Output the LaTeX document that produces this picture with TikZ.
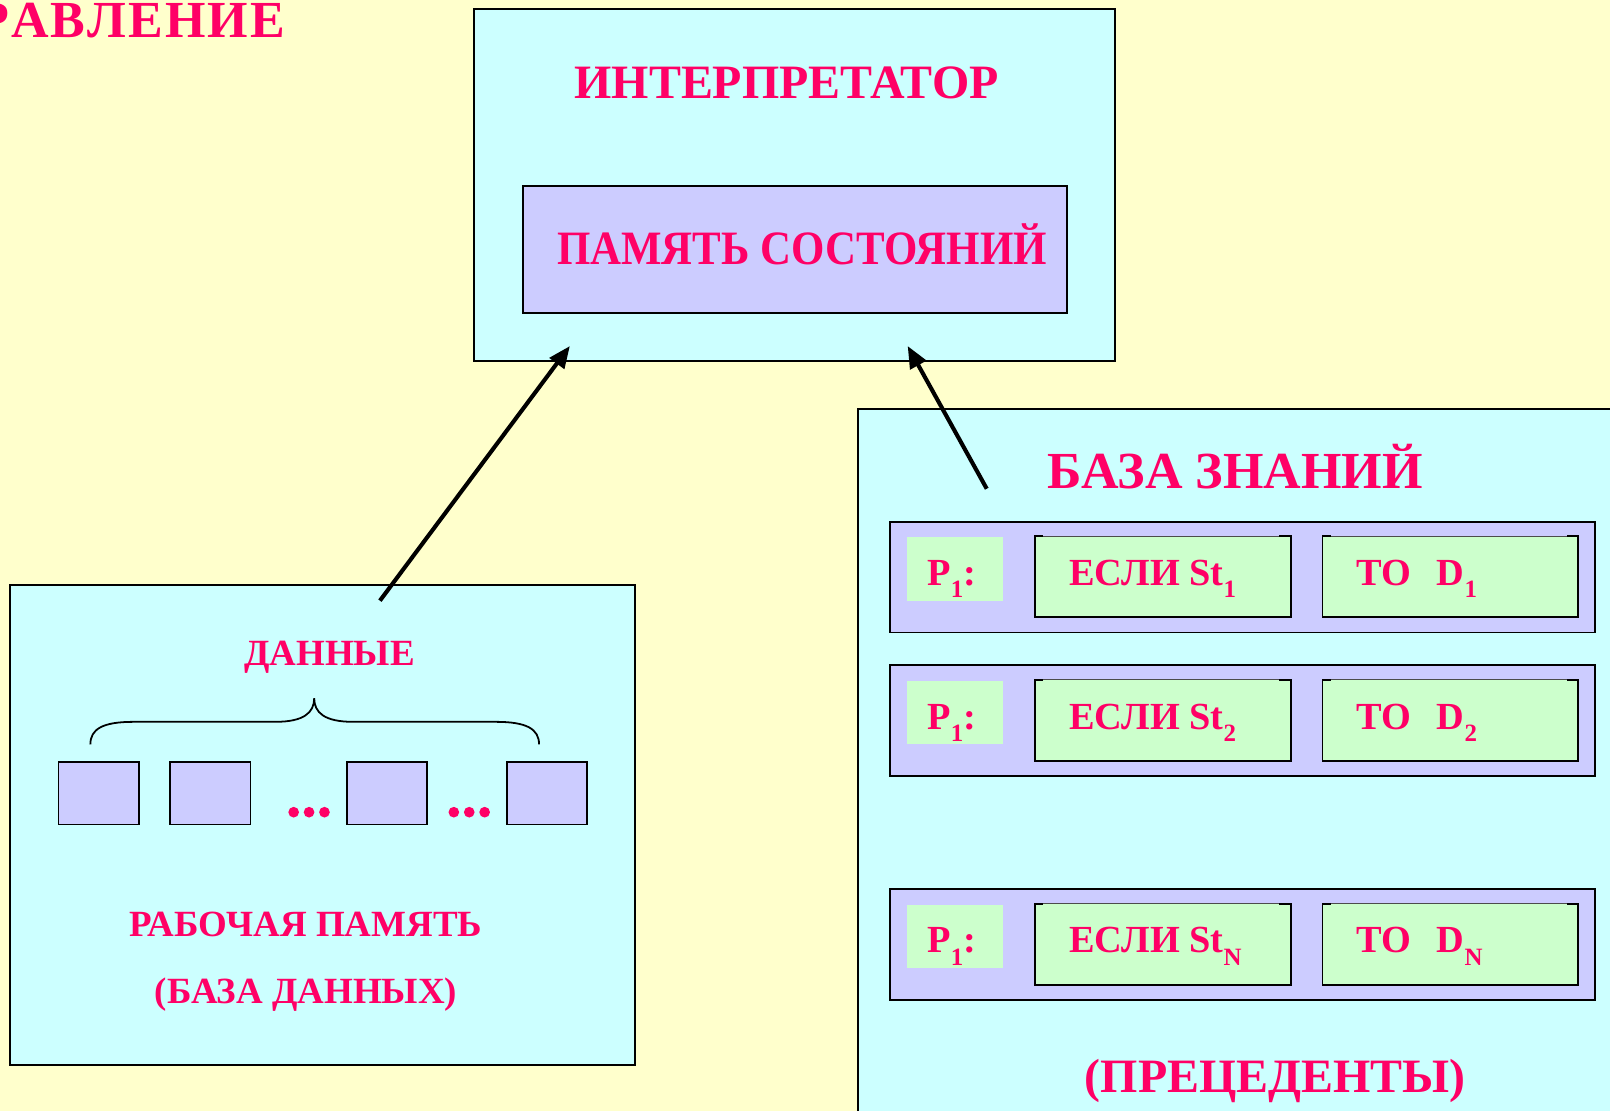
\documentclass[tikz,border=0pt]{standalone}
\usepackage{fontspec}
\setmainfont{Liberation Serif}
\usetikzlibrary{arrows.meta}
\definecolor{bgY}{HTML}{FFFFCC}
\definecolor{cyanB}{HTML}{CCFFFF}
\definecolor{lavB}{HTML}{CCCCFF}
\definecolor{greenB}{HTML}{CCFFCC}
\definecolor{txtR}{HTML}{FF0066}
\newcommand{\mysub}[1]{\raisebox{-0.32em}{\scalebox{0.65}{#1}}}
\begin{document}
\begin{tikzpicture}[x=0.75pt,y=-0.75pt,
  lbl/.style={text=txtR, inner sep=0pt, anchor=base},
  fbig/.style={lbl, font=\fontsize{35}{42}\selectfont\bfseries},
  fkb/.style={lbl, font=\fontsize{38}{44}\selectfont\bfseries},
  fmid/.style={lbl, font=\fontsize{27}{32}\selectfont\bfseries},
  frow/.style={lbl, anchor=base west, font=\fontsize{28}{32}\selectfont\bfseries},
  panel/.style={draw=black, line width=1.4pt},
  cell/.style={draw=black, fill=lavB, line width=1.4pt},
  arrowln/.style={line width=3pt, -{Triangle[length=16pt,width=13pt]}}
]
\useasboundingbox (0,0) rectangle (1568,1082);
\fill[bgY] (0,0) rectangle (1568,1082);

% top-left cut-off title
\node[lbl, anchor=base east, font=\fontsize{38}{44}\selectfont\bfseries] (title) at (278,37) {Р\hspace{0.04em}А\hspace{0.04em}В\hspace{0.04em}Л\hspace{0.04em}Е\hspace{0.04em}Н\hspace{0.04em}И\hspace{0.04em}Е};

% interpreter
\draw[panel, fill=cyanB] (462,9) rectangle (1086,352);
\node[fbig] (interp) at (766,96) {ИНТЕРПРЕТАТОР};
\draw[panel, fill=lavB] (509,181) rectangle (1039,305);
\node[fbig] (statemem) at (781,258) {\scalebox{0.895}[1]{ПАМЯТЬ СОСТОЯНИЙ}};

% working memory
\draw[panel, fill=cyanB] (10,570) rectangle (618,1037);
\node[fmid] (data) at (321,648) {ДАННЫЕ};
\draw[line width=1.3pt] (88,725) .. controls (88,710) and (100,703) .. (130,703) -- (268,703)
  .. controls (296,703) and (306,694) .. (306,680)
  .. controls (306,694) and (316,703) .. (344,703) -- (483,703)
  .. controls (513,703) and (525,710) .. (525,725);
\foreach \xa/\nm in {57/c1,166/c2,338/c3,494/c4}{
  \draw[cell] (\xa,742) rectangle ++(78,61);
}
\foreach \xa in {281,437}{
  \foreach \k in {0,15,30}{
    \fill[txtR] (\xa+5+\k,791) circle (5.2);
  }
}
\node[fmid] (wm1) at (298,912) {РАБОЧАЯ ПАМЯТЬ};
\node[fmid] (wm2) at (298,977) {(БАЗА ДАННЫХ)};

% knowledge base
\draw[panel, fill=cyanB] (836,398) rectangle (1640,1120);
\node[fkb] (kb) at (1203,476) {БАЗА ЗНАНИЙ};
\foreach \ya/\s in {508/1,648/2,866/N}{
  \draw[cell] (867,\ya) rectangle (1553,\ya+108);
  \fill[greenB] (883,\ya+15) rectangle (977,\ya+77);
  \node[frow] (p\s) at (903,\ya+62) {P\mysub{1}:};
  \foreach \xb in {1008,1288}{
    \fill[greenB] (\xb,\ya+14) rectangle (\xb+249,\ya+93);
    \draw[black!70, line width=0.5pt] (\xb,\ya+14) -- (\xb+249,\ya+14);
    \draw[black, line width=1.4pt] (\xb+8,\ya+14) -- (\xb,\ya+14) -- (\xb,\ya+93) -- (\xb+249,\ya+93) -- (\xb+249,\ya+14) -- (\xb+238,\ya+14);
  }
  \node[frow] (if\s) at (1041,\ya+62) {ЕСЛИ St\mysub{\s}};
  \node[frow] (then\s) at (1321,\ya+62) {ТО\hspace{0.66em}D\mysub{\s}};
}
\node[fbig] (prec) at (1242,1064) {(ПРЕЦЕДЕНТЫ)};

% arrows
\coordinate (a1s) at (370,585);
\coordinate (a1e) at (555,337);
\coordinate (a2s) at (961,476);
\coordinate (a2e) at (884,337);
\draw[arrowln] (a1s) -- (a1e);
\draw[arrowln] (a2s) -- (a2e);
\end{tikzpicture}
\end{document}
